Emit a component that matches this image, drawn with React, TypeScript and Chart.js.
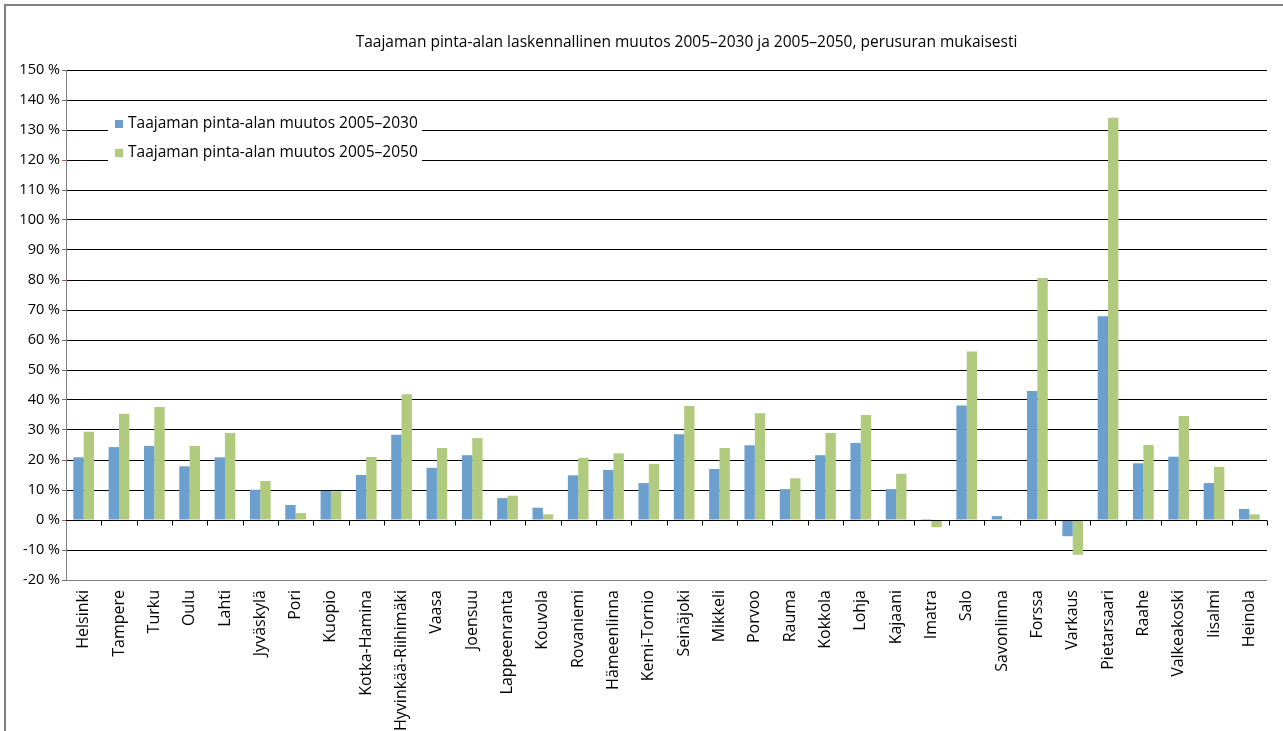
import { useEffect, useRef } from "react";
import { Chart, registerables } from "chart.js";

Chart.register(...registerables);

const FONT = '"Open Sans", "DejaVu Sans", sans-serif';

const chartTitle =
  "Taajaman pinta-alan laskennallinen muutos 2005–2030 ja 2005–2050, perusuran mukaisesti";

const cities = [
  "Helsinki", "Tampere", "Turku", "Oulu", "Lahti", "Jyväskylä", "Pori", "Kuopio",
  "Kotka-Hamina", "Hyvinkää-Riihimäki", "Vaasa", "Joensuu", "Lappeenranta", "Kouvola",
  "Rovaniemi", "Hämeenlinna", "Kemi-Tornio", "Seinäjoki", "Mikkeli", "Porvoo", "Rauma",
  "Kokkola", "Lohja", "Kajaani", "Imatra", "Salo", "Savonlinna", "Forssa", "Varkaus",
  "Pietarsaari", "Raahe", "Valkeakoski", "Iisalmi", "Heinola",
];

const change2030 = [
  20.9, 24.3, 24.7, 17.9, 20.9, 10.1, 5.0, 9.7, 15.0, 28.4, 17.4, 21.6, 7.3, 4.1,
  14.9, 16.7, 12.3, 28.6, 17.0, 24.9, 10.3, 21.6, 25.7, 10.3, 0.3, 38.2, 1.3, 43.0,
  -5.4, 67.9, 18.9, 21.1, 12.3, 3.7,
];

const change2050 = [
  29.4, 35.4, 37.7, 24.7, 29.0, 13.0, 2.3, 9.6, 21.0, 41.9, 24.0, 27.3, 8.1, 1.9,
  20.7, 22.2, 18.7, 38.0, 24.0, 35.6, 13.9, 29.0, 35.0, 15.4, -2.4, 56.2, 0.2, 80.7,
  -11.6, 134.1, 25.0, 34.7, 17.7, 1.9,
];

const seriesNames = [
  "Taajaman pinta-alan muutos 2005–2030",
  "Taajaman pinta-alan muutos 2005–2050",
];
const seriesColors = ["#6A9FCE", "#B0CA7E"];

const yMin = -20;
const yMax = 150;
const yStep = 10;

// Title line above the plot
const titlePlugin = {
  id: "topTitle",
  afterDraw(chart: any) {
    const { ctx, chartArea } = chart;
    ctx.save();
    ctx.font = `15.5px ${FONT}`;
    ctx.fillStyle = "#000";
    ctx.textAlign = "center";
    ctx.textBaseline = "middle";
    ctx.fillText(chartTitle, (chartArea.left + chartArea.right) / 2 + 20, chartArea.top - 27);
    ctx.restore();
  },
};

// Category axis drawn through the zero value, with ticks between categories
const zeroAxisPlugin = {
  id: "zeroAxis",
  afterDatasetsDraw(chart: any) {
    const { ctx, chartArea, scales } = chart;
    const y0 = Math.round(scales.y.getPixelForValue(0)) + 0.5;
    const n = chart.data.labels.length;
    ctx.save();
    ctx.strokeStyle = "#000";
    ctx.lineWidth = 1;
    ctx.beginPath();
    ctx.moveTo(chartArea.left, y0);
    ctx.lineTo(chartArea.right, y0);
    for (let i = 1; i <= n; i++) {
      const x =
        i < n
          ? (scales.x.getPixelForValue(i - 1) + scales.x.getPixelForValue(i)) / 2
          : chartArea.right;
      const xr = Math.round(x) + 0.5;
      ctx.moveTo(xr, y0);
      ctx.lineTo(xr, y0 + 5);
    }
    ctx.stroke();
    ctx.restore();
  },
};

// Legend box placed inside the plot area
const insetLegendPlugin = {
  id: "insetLegend",
  afterDatasetsDraw(chart: any) {
    const { ctx, chartArea } = chart;
    const left = chartArea.left + 42;
    const top = chartArea.top + 40;
    ctx.save();
    ctx.fillStyle = "#fff";
    ctx.fillRect(left, top, 314, 62);
    ctx.font = `15.5px ${FONT}`;
    ctx.textBaseline = "middle";
    ctx.textAlign = "left";
    chart.data.datasets.forEach((ds: any, i: number) => {
      const cy = top + 14 + i * 29;
      ctx.fillStyle = ds.backgroundColor;
      ctx.fillRect(left + 7, cy - 4, 8, 8);
      ctx.fillStyle = "#000";
      ctx.fillText(ds.label, left + 20, cy);
    });
    ctx.restore();
  },
};

export default function App() {
  const canvasRef = useRef<HTMLCanvasElement | null>(null);

  useEffect(() => {
    if (!canvasRef.current) return;
    const chart = new Chart(canvasRef.current, {
      type: "bar",
      data: {
        labels: cities,
        datasets: [
          {
            label: seriesNames[0],
            data: change2030,
            backgroundColor: seriesColors[0],
            borderWidth: 0,
          },
          {
            label: seriesNames[1],
            data: change2050,
            backgroundColor: seriesColors[1],
            borderWidth: 0,
          },
        ],
      },
      options: {
        animation: false,
        responsive: false,
        maintainAspectRatio: false,
        layout: { padding: { top: 70, right: 16, bottom: 0, left: 0 } },
        datasets: { bar: { categoryPercentage: 0.586, barPercentage: 1 } },
        plugins: {
          legend: { display: false },
          title: { display: false },
          tooltip: { enabled: false },
        },
        scales: {
          x: {
            grid: { display: false, drawTicks: false },
            border: { display: false },
            ticks: {
              minRotation: 90,
              maxRotation: 90,
              autoSkip: false,
              padding: 10,
              color: "#000",
              font: { family: FONT, size: 16 },
            },
            afterFit(scale: any) {
              scale.height = 151;
            },
          },
          y: {
            min: yMin,
            max: yMax,
            ticks: {
              stepSize: yStep,
              padding: 2,
              color: "#000",
              font: { family: FONT, size: 14.5 },
              callback: (v: any) => `${v} %`,
            },
            grid: {
              color: (ctx: any) => (ctx.tick && ctx.tick.value === yMin ? "#808080" : "#000"),
              lineWidth: 1,
              drawTicks: true,
              tickLength: 4,
              tickColor: "#C0504D",
            },
            border: { display: true, color: "#808080", width: 1 },
            afterFit(scale: any) {
              scale.width = 66;
            },
          },
        },
      },
      plugins: [titlePlugin, zeroAxisPlugin, insetLegendPlugin],
    });
    return () => chart.destroy();
  }, []);

  return (
    <div
      style={{
        position: "fixed",
        left: 0,
        top: 0,
        width: 1283,
        height: 731,
        overflow: "hidden",
        background: "#fff",
      }}
    >
      <div
        style={{
          position: "absolute",
          left: 4,
          top: 4,
          width: 1400,
          height: 900,
          border: "2px solid #808080",
        }}
      />
      <canvas
        ref={canvasRef}
        width={1283}
        height={731}
        style={{ position: "absolute", left: 0, top: 0 }}
      />
    </div>
  );
}
